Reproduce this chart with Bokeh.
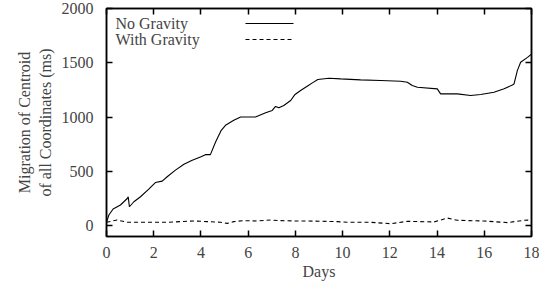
from bokeh.plotting import figure
from bokeh.models import (LinearAxis, FixedTicker, Range1d, Label, Arrow,
                          CustomLabelingPolicy)
from bokeh.embed import file_html
from bokeh.resources import INLINE

# ---- data ----
no_grav_days = [0, 0.1, 0.28, 0.59, 0.88, 0.92, 0.97, 1.16, 1.44, 1.79, 2.07, 2.36, 2.57,
                2.92, 3.28, 3.63, 3.98, 4.19, 4.4, 4.62, 4.86, 5.04, 5.39, 5.68, 6.03, 6.31,
                6.74, 7.02, 7.16, 7.3, 7.51, 7.8, 7.97, 8.22, 8.5, 8.72, 8.95, 9.42, 9.92,
                10.76, 11.61, 12.46, 12.74, 12.95, 13.17, 14.01, 14.15, 14.86, 15.42, 15.85,
                16.41, 16.84, 17.19, 17.26, 17.4, 17.54, 17.83, 18.0]
no_grav_ms = [30, 98, 153, 190, 250, 265, 174, 220, 266, 336, 397, 410, 450,
              511, 566, 603, 633, 654, 654, 771, 878, 924, 970, 1000, 1000, 1000,
              1040, 1061, 1098, 1085, 1107, 1153, 1205, 1245, 1284, 1315, 1346, 1358, 1352,
              1343, 1337, 1330, 1321, 1291, 1275, 1260, 1214, 1214, 1199, 1208,
              1229, 1260, 1296, 1305, 1428, 1505, 1550, 1580]

grav_days = [0, 0.45, 0.88, 1.44, 2.0, 2.57, 3.14, 3.7, 4.27, 4.83, 5.11, 5.39, 5.82,
             6.39, 6.95, 7.37, 7.94, 8.5, 9.77, 10.2, 11.19, 12.03, 12.74, 13.87, 14.44,
             14.86, 15.99, 16.98, 17.68, 17.97]
grav_ms = [31, 52, 31, 31, 31, 31, 37, 43, 37, 31, 21, 37, 46,
           43, 52, 46, 43, 43, 37, 31, 31, 18, 40, 34, 70,
           49, 43, 28, 49, 52]

x_ticks = [0, 2, 4, 6, 8, 10, 12, 14, 16, 18]
y_ticks = [0, 500, 1000, 1500, 2000]
series_names = ["No Gravity", "With Gravity"]

FONT = "Liberation Serif"
FS = "16px"

W, H = 539, 284
ML, MR, MT, MB = 106, 8, 8, 48

p = figure(width=W, height=H, output_backend="svg", toolbar_location=None,
           x_range=Range1d(0, 18), y_range=Range1d(-100, 2000),
           min_border_left=ML, min_border_right=MR, min_border_top=MT,
           min_border_bottom=MB, x_axis_label="Days",
           y_axis_label="Migration of Centroid\nof all Coordinates (ms)")
p.grid.visible = False
p.outline_line_color = "black"
p.outline_line_width = 1.5
p.background_fill_color = "white"
p.border_fill_color = "white"

p.xaxis.ticker = FixedTicker(ticks=x_ticks)
p.yaxis.ticker = FixedTicker(ticks=y_ticks)

for ax in (p.xaxis[0], p.yaxis[0]):
    ax.major_tick_in = 6
    ax.major_tick_out = 0
    ax.minor_tick_line_color = None
    ax.axis_line_width = 1.5
    ax.major_tick_line_width = 1.5
    ax.major_label_text_font = FONT
    ax.major_label_text_font_size = FS
    ax.axis_label_text_font = FONT
    ax.axis_label_text_font_size = FS
    ax.axis_label_text_font_style = "normal"

p.xaxis.major_label_standoff = 10
p.xaxis.axis_label_standoff = 2
p.yaxis.major_label_standoff = 13
p.yaxis.axis_label_standoff = 5

# mirrored ticks (no labels)
hide_all = CustomLabelingPolicy(code="for (const i of indices) { indices.unset(i) }\nreturn indices")
for loc, ticks in (("right", y_ticks), ("above", x_ticks)):
    ax = LinearAxis(ticker=FixedTicker(ticks=ticks), major_label_policy=hide_all)
    ax.major_tick_in = 6
    ax.major_tick_out = 0
    ax.minor_tick_line_color = None
    ax.axis_line_width = 1.5
    ax.major_tick_line_width = 1.5
    ax.major_label_text_font_size = "1px"
    ax.major_label_standoff = 0
    p.add_layout(ax, loc)

p.line(no_grav_days, no_grav_ms, line_color="black", line_width=1.1)
p.line(grav_days, grav_ms, line_color="black", line_width=1.1, line_dash="4 3")

# legend (gnuplot style: text, then sample) -- offsets from frame top
FRAME_H = H - MT - MB
for i, (name, dash) in enumerate(zip(series_names, ["solid", "4 3"])):
    yy = FRAME_H - 15 - 16 * i
    p.add_layout(Label(x=9, y=yy, x_units="screen", y_units="screen", text=name,
                       text_font=FONT, text_font_size=FS, text_baseline="middle",
                       text_align="left"))
    p.add_layout(Arrow(x_start=139, y_start=yy, x_end=187, y_end=yy,
                       start_units="screen", end_units="screen", start=None, end=None,
                       line_color="black", line_width=1.1, line_dash=dash))

open("out.html", "w").write(file_html(p, INLINE))
